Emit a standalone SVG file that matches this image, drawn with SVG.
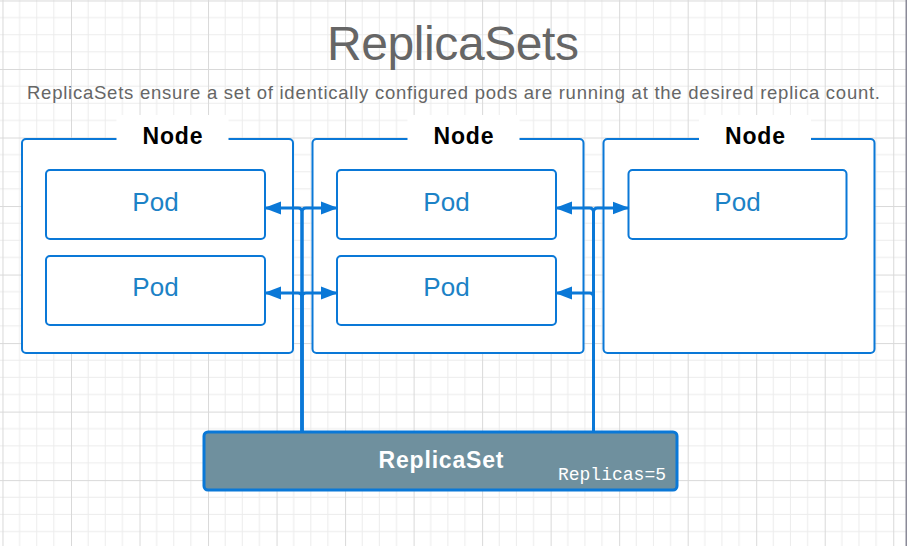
<svg xmlns="http://www.w3.org/2000/svg" width="907" height="546" viewBox="0 0 907 546">
<defs>
<pattern id="grid" patternUnits="userSpaceOnUse" x="71" y="69" width="68.52" height="68.52">
<path d="M17.13 0V68.52M34.26 0V68.52M51.39 0V68.52M0 17.13H68.52M0 34.26H68.52M0 51.39H68.52" stroke="#ececec" stroke-width="1" fill="none"/>
<path d="M0.5 0V68.52M0 0.5H68.52" stroke="#d9d9d9" stroke-width="1" fill="none"/>
</pattern>
<marker id="arr" markerUnits="userSpaceOnUse" markerWidth="18" markerHeight="14" refX="16" refY="7" orient="auto">
<path d="M0 0.5L17 7L0 13.5Z" fill="#0a78d7"/>
</marker>
<style>
.node{fill:#fff;stroke:#0a78d7;stroke-width:2}
.pod{fill:#fff;stroke:#0a78d7;stroke-width:2}
.gap{fill:#fff}
.nlabel{font-family:"Liberation Sans",Arial,sans-serif;font-weight:bold;font-size:23px;fill:#000;text-anchor:middle}
.plabel{font-family:"Liberation Sans",Arial,sans-serif;font-size:26px;fill:#1c82c6;text-anchor:middle}
.edge{fill:none;stroke:#0a78d7;stroke-width:3;marker-end:url(#arr)}
</style>
</defs>
<rect width="907" height="546" fill="#fff"/>
<rect width="907" height="546" fill="url(#grid)"/>
<rect x="905.5" y="0" width="1.5" height="546" fill="#8a8a98"/>

<text x="453" y="60" font-family="'Liberation Sans',Arial,sans-serif" font-size="48" fill="#666" text-anchor="middle" textLength="252">ReplicaSets</text>
<text x="453.5" y="99" font-family="'Liberation Sans',Arial,sans-serif" font-size="18.5" fill="#666" text-anchor="middle" textLength="853">ReplicaSets ensure a set of identically configured pods are running at the desired replica count.</text>

<g id="node1">
<rect class="node" x="22" y="139" width="271" height="214" rx="4"/>
<rect class="gap" x="116.5" y="115" width="112" height="28"/>
<text class="nlabel" x="172.5" y="144" textLength="60">Node</text>
</g>
<g id="node2">
<rect class="node" x="312.5" y="139" width="271" height="214" rx="4"/>
<rect class="gap" x="407.5" y="115" width="112" height="28"/>
<text class="nlabel" x="463.5" y="144" textLength="60">Node</text>
</g>
<g id="node3">
<rect class="node" x="603.5" y="139" width="271" height="214" rx="4"/>
<rect class="gap" x="699" y="115" width="112" height="28"/>
<text class="nlabel" x="755" y="144" textLength="60">Node</text>
</g>

<g id="pod1a">
<rect class="pod" x="46" y="170" width="219" height="69" rx="4"/>
<text class="plabel" x="155.5" y="211">Pod</text>
</g>
<g id="pod1b">
<rect class="pod" x="46" y="256" width="219" height="69" rx="4"/>
<text class="plabel" x="155.5" y="296">Pod</text>
</g>
<g id="pod2a">
<rect class="pod" x="337" y="170" width="219" height="69" rx="4"/>
<text class="plabel" x="446.5" y="211">Pod</text>
</g>
<g id="pod2b">
<rect class="pod" x="337" y="256" width="219" height="69" rx="4"/>
<text class="plabel" x="446.5" y="296">Pod</text>
</g>
<g id="pod3a">
<rect class="pod" x="628.5" y="170" width="218" height="69" rx="4"/>
<text class="plabel" x="737.5" y="211">Pod</text>
</g>

<g id="connectors">
<path class="edge" d="M302 432V212Q302 208 298 208H265"/>
<path class="edge" d="M302 432V212Q302 208 306 208H337"/>
<path class="edge" d="M302 432V297Q302 293 298 293H265"/>
<path class="edge" d="M302 432V297Q302 293 306 293H337"/>
<path class="edge" d="M593.5 432V212Q593.5 208 589.5 208H556"/>
<path class="edge" d="M593.5 432V212Q593.5 208 597.5 208H628.5"/>
<path class="edge" d="M593.5 432V297Q593.5 293 589.5 293H556"/>
</g>

<g id="replicaset">
<rect x="204" y="432" width="473" height="58" rx="4" fill="#6f909e" stroke="#0a78d7" stroke-width="3"/>
<text x="441" y="468" font-family="'Liberation Sans',Arial,sans-serif" font-weight="bold" font-size="23" fill="#fff" text-anchor="middle" textLength="125">ReplicaSet</text>
<text x="666" y="480" font-family="'Liberation Mono','DejaVu Sans Mono',monospace" font-size="18" fill="#fff" text-anchor="end">Replicas=5</text>
</g>
</svg>
